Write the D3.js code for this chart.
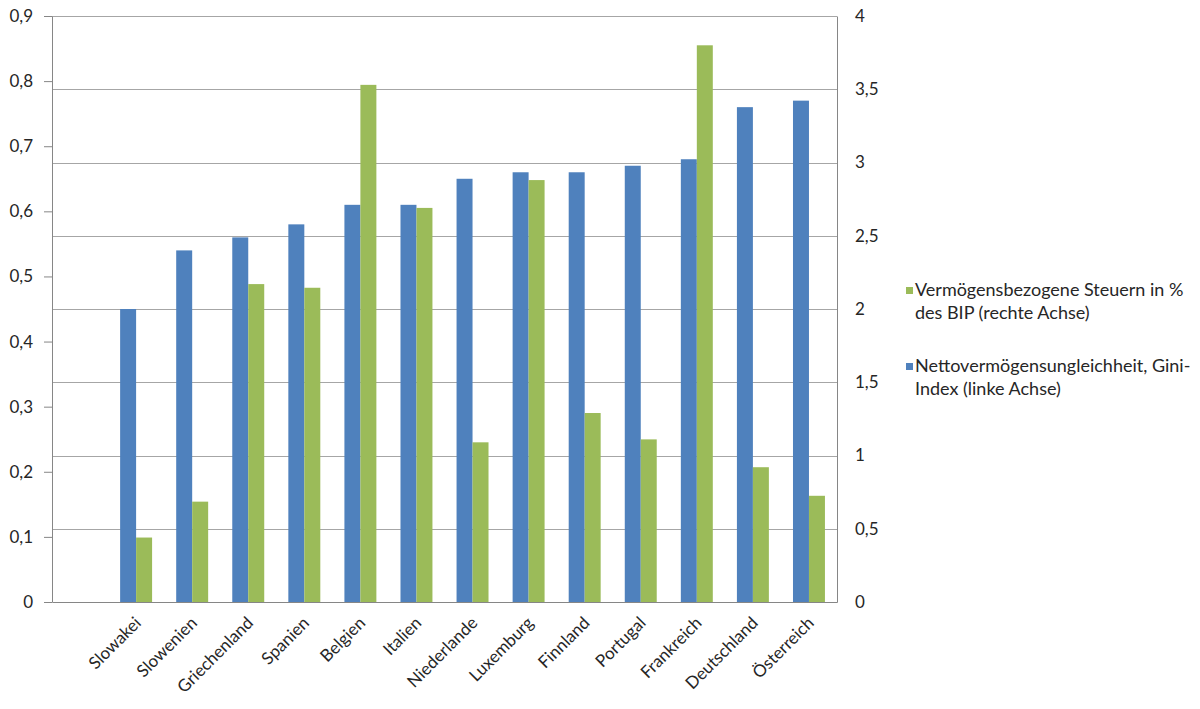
<!DOCTYPE html>
<html>
<head>
<meta charset="utf-8">
<script src="https://cdn.jsdelivr.net/npm/d3@7"></script>
<style>
  body { margin: 0; background: #fff; }
  text { font-family: Lato, "Open Sans", sans-serif; fill: #262626; }
</style>
</head>
<body>
<script>
// leading empty category is part of the original chart
var countries = ["", "Slowakei", "Slowenien", "Griechenland", "Spanien", "Belgien", "Italien",
    "Niederlande", "Luxemburg", "Finnland", "Portugal", "Frankreich", "Deutschland", "Österreich"];
var gini = [null, 0.45, 0.54, 0.56, 0.58, 0.61, 0.61, 0.65, 0.66, 0.66, 0.67, 0.68, 0.76, 0.77];
var steuern = [null, 0.44, 0.685, 2.17, 2.145, 3.53, 2.69, 1.09, 2.88, 1.29, 1.11, 3.80, 0.92, 0.725];
var leftTicks = [0, 0.1, 0.2, 0.3, 0.4, 0.5, 0.6, 0.7, 0.8, 0.9];
var rightTicks = [0, 0.5, 1, 1.5, 2, 2.5, 3, 3.5, 4];
var legendItems = [
    { color: "#9BBB59", lines: ["Vermögensbezogene Steuern in %", "des BIP (rechte Achse)"] },
    { color: "#4F81BD", lines: ["Nettovermögensungleichheit, Gini-", "Index (linke Achse)"] }
];

var margin = { top: 16, right: 363, bottom: 107, left: 52 },
    width = 1200 - margin.left - margin.right,
    height = 709 - margin.top - margin.bottom;

var fmt = function (d) { return String(d).replace(".", ","); };

var svg = d3.select("body")
    .append("svg")
    .attr("width", 1200)
    .attr("height", 709);

var g = svg.append("g").attr("transform", "translate(" + margin.left + "," + margin.top + ")");

var x = d3.scaleBand().domain(countries).range([0, width]).paddingInner(0.43).paddingOuter(0.215),
    yL = d3.scaleLinear().domain([0, 0.9]).range([height, 0]),
    yR = d3.scaleLinear().domain([0, 4]).range([height, 0]);

var x1 = d3.scaleBand().domain(["gini", "steuern"]).range([0, x.bandwidth()]);

// gridlines (right axis)
g.append("g")
    .selectAll("line")
    .data(rightTicks.filter(function (d) { return d > 0; }))
    .enter().append("line")
    .attr("x1", 0).attr("x2", width)
    .attr("y1", function (d) { return Math.round(yR(d)) + 0.5; })
    .attr("y2", function (d) { return Math.round(yR(d)) + 0.5; })
    .attr("stroke", "#a6a6a6")
    .attr("stroke-width", 1);

// bars
var data = countries.map(function (c, i) { return { c: c, gini: gini[i], steuern: steuern[i] }; })
    .filter(function (d) { return d.gini != null; });

g.selectAll(".gini")
    .data(data)
    .enter().append("rect")
    .attr("class", "gini")
    .attr("x", function (d) { return x(d.c) + x1("gini"); })
    .attr("width", x1.bandwidth())
    .attr("y", function (d) { return yL(d.gini); })
    .attr("height", function (d) { return height - yL(d.gini); })
    .attr("fill", "#4F81BD");

g.selectAll(".steuern")
    .data(data)
    .enter().append("rect")
    .attr("class", "steuern")
    .attr("x", function (d) { return x(d.c) + x1("steuern"); })
    .attr("width", x1.bandwidth())
    .attr("y", function (d) { return yR(d.steuern); })
    .attr("height", function (d) { return height - yR(d.steuern); })
    .attr("fill", "#9BBB59");

// left axis
var axL = g.append("g")
    .call(d3.axisLeft(yL).tickValues(leftTicks).tickFormat(fmt).tickSizeInner(8).tickSizeOuter(0).tickPadding(11));
axL.selectAll("line, path").attr("stroke", "#868686");
axL.selectAll("text").style("font-size", "17px").attr("fill", "#262626");

// right axis
var axR = g.append("g")
    .attr("transform", "translate(" + width + ",0)")
    .call(d3.axisRight(yR).tickValues(rightTicks).tickFormat(fmt).tickSize(0).tickPadding(18));
axR.selectAll("path").attr("stroke", "#868686");
axR.selectAll("text").style("font-size", "17px").attr("fill", "#262626").attr("text-anchor", "start");

// bottom axis
var axB = g.append("g")
    .attr("transform", "translate(0," + height + ")")
    .call(d3.axisBottom(x).tickSize(0).tickPadding(0));
axB.select(".domain").attr("stroke", "#868686");
axB.selectAll("text")
    .style("font-size", "17px")
    .attr("fill", "#262626")
    .attr("text-anchor", "end")
    .attr("dy", 0)
    .attr("transform", "translate(6,22) rotate(-45)");

// legend
var leg = svg.append("g").attr("transform", "translate(906,0)");
legendItems.forEach(function (item, i) {
    var y0 = 287 + i * 76;
    leg.append("rect").attr("x", 0).attr("y", y0).attr("width", 7).attr("height", 7).attr("fill", item.color);
    item.lines.forEach(function (line, j) {
        leg.append("text")
            .attr("x", 9)
            .attr("y", y0 + 9 + j * 23)
            .style("font-size", "18px")
            .text(line);
    });
});
</script>
</body>
</html>
